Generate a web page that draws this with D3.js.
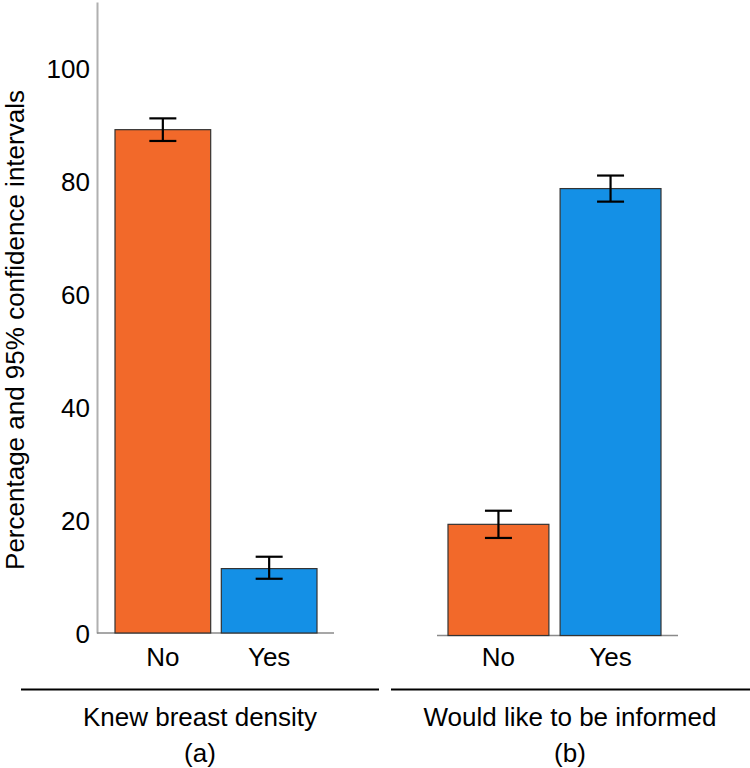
<!DOCTYPE html>
<html>
<head>
<meta charset="utf-8">
<script src="https://cdn.jsdelivr.net/npm/d3@7"></script>
<style>
  body { margin: 0; background: #fff; }
  text { font-family: "Liberation Sans", Arial, sans-serif; fill: #000; }
</style>
</head>
<body>
<div id="chart"></div>
<script>
// values (percent, with 95% CI)
var categories = ['No', 'Yes'];
var knewValues = [89.1, 11.4];
var knewLow = [87.1, 9.6];
var knewHigh = [91.1, 13.5];
var informValues = [19.6, 78.8];
var informLow = [17.2, 76.5];
var informHigh = [22.0, 81.1];
var yTicks = [0, 20, 40, 60, 80, 100];
var groupTitles = ['Knew breast density', 'Would like to be informed'];
var groupLetters = ['(a)', '(b)'];
var colors = ['#f2692a', '#1490e6'];

var w = 750, h = 768;
var yMax = 111.7;

var svg = d3.select('#chart').append('svg')
  .attr('width', w)
  .attr('height', h);

// two panels, slightly different geometry like the original
var panels = [
  { vals: knewValues, lo: knewLow, hi: knewHigh, base: 633, bars: [115, 317], axis: [97, 334], rule: [21, 379], cx: 200 },
  { vals: informValues, lo: informLow, hi: informHigh, base: 635.5, bars: [448, 661], axis: [437, 678], rule: [391, 750], cx: 570 }
];

panels.forEach(function(p, pi) {
  var y = d3.scaleLinear().domain([0, yMax]).range([p.base, 2]);
  var x = d3.scaleBand().domain(categories).range(p.bars).paddingInner(0.1).paddingOuter(0);

  var data = categories.map(function(c, i) {
    return { cat: c, v: p.vals[i], lo: p.lo[i], hi: p.hi[i], color: colors[i] };
  });

  var g = svg.append('g');

  if (pi === 0) {
    var yAxis = d3.axisLeft(y).tickValues(yTicks).tickSize(0).tickPadding(7);
    var ax = g.append('g')
      .attr('transform', 'translate(' + p.axis[0] + ',0)')
      .call(yAxis);
    ax.select('.domain').attr('stroke', '#b0b0b0').attr('stroke-width', 2);
    ax.selectAll('text')
      .style('font-size', '26px')
      .attr('dy', '0.35em');
  }

  // baseline
  g.append('line')
    .attr('x1', p.axis[0]).attr('x2', p.axis[1])
    .attr('y1', y(0)).attr('y2', y(0))
    .attr('stroke', '#8a8a8a')
    .attr('stroke-width', 1.5);

  g.selectAll('rect.bar').data(data).enter()
    .append('rect')
    .attr('class', 'bar')
    .attr('x', function(d) { return x(d.cat); })
    .attr('y', function(d) { return y(d.v); })
    .attr('width', x.bandwidth())
    .attr('height', function(d) { return y(0) - y(d.v); })
    .attr('fill', function(d) { return d.color; })
    .attr('stroke', '#333')
    .attr('stroke-width', 1.2);

  // error bars
  var eb = g.selectAll('g.err').data(data).enter()
    .append('g')
    .attr('class', 'err')
    .attr('stroke', '#000')
    .attr('stroke-width', 2.2);
  eb.append('line')
    .attr('x1', function(d) { return x(d.cat) + x.bandwidth() / 2; })
    .attr('x2', function(d) { return x(d.cat) + x.bandwidth() / 2; })
    .attr('y1', function(d) { return y(d.hi); })
    .attr('y2', function(d) { return y(d.lo); });
  [function(d) { return d.hi; }, function(d) { return d.lo; }].forEach(function(f) {
    eb.append('line')
      .attr('x1', function(d) { return x(d.cat) + x.bandwidth() / 2 - 13.5; })
      .attr('x2', function(d) { return x(d.cat) + x.bandwidth() / 2 + 13.5; })
      .attr('y1', function(d) { return y(f(d)); })
      .attr('y2', function(d) { return y(f(d)); });
  });

  // category labels
  g.selectAll('text.cat').data(data).enter()
    .append('text')
    .attr('class', 'cat')
    .attr('x', function(d) { return x(d.cat) + x.bandwidth() / 2; })
    .attr('y', 666)
    .attr('text-anchor', 'middle')
    .style('font-size', '26px')
    .text(function(d) { return d.cat; });

  // group rule + titles
  g.append('line')
    .attr('x1', p.rule[0]).attr('x2', p.rule[1])
    .attr('y1', 689.5).attr('y2', 689.5)
    .attr('stroke', '#000')
    .attr('stroke-width', 2);
  g.append('text')
    .attr('x', p.cx).attr('y', 726)
    .attr('text-anchor', 'middle')
    .style('font-size', '26px')
    .text(groupTitles[pi]);
  g.append('text')
    .attr('x', p.cx).attr('y', 762)
    .attr('text-anchor', 'middle')
    .style('font-size', '26px')
    .text(groupLetters[pi]);
});

// y axis title
svg.append('text')
  .attr('transform', 'translate(24,330) rotate(-90)')
  .attr('text-anchor', 'middle')
  .style('font-size', '26px')
  .text('Percentage and 95% confidence intervals');
</script>
</body>
</html>
